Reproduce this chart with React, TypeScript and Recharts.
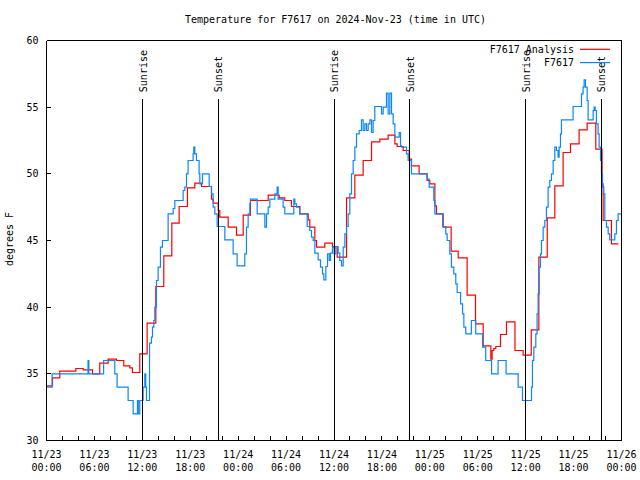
import { Customized, Legend, Line, LineChart, ReferenceLine, XAxis, YAxis } from 'recharts';

const FONT = '"DejaVu Sans Mono", "Liberation Mono", monospace';

const HOUR_TICKS = [
  0, 2, 4, 6, 8, 10, 12, 14, 16, 18, 20, 22, 24, 26, 28, 30, 32, 34, 36, 38, 40, 42, 44, 46, 48,
  50, 52, 54, 56, 58, 60, 62, 64, 66, 68, 70, 72
];
const MAJOR_HOURS = [0, 6, 12, 18, 24, 30, 36, 42, 48, 54, 60, 66, 72];
const DATE_LABELS = [
  '11/23', '11/23', '11/23', '11/23', '11/24', '11/24', '11/24', '11/24',
  '11/25', '11/25', '11/25', '11/25', '11/26'
];
const TIME_LABELS = [
  '00:00', '06:00', '12:00', '18:00', '00:00', '06:00', '12:00', '18:00',
  '00:00', '06:00', '12:00', '18:00', '00:00'
];
const TEMP_TICKS = [30, 35, 40, 45, 50, 55, 60];

const SUN_EVENTS = ['Sunrise', 'Sunset', 'Sunrise', 'Sunset', 'Sunrise', 'Sunset'];
const SUN_HOURS = [12.03, 21.5, 36.04, 45.47, 60.03, 69.49];
// top of the sunrise/sunset markers (graph 0.85)
const MARKER_TOP = 55.6;

const SERIES_NAMES = ['F7617 Analysis', 'F7617'];
const SERIES_COLORS = ['#ff0000', '#0a86ff'];

// hours since 11/23 00:00 UTC
const ANALYSIS_HOURS = [
  0, 0.75, 1.66, 3.67, 4.59, 5.76, 6.67, 7.72, 8.76, 9.68, 10.43, 10.76, 11.68, 12.6, 13.69,
  14.69, 15.69, 16.61, 17.65, 18.57, 19.41, 20.66, 20.87, 21.5, 21.7, 22.75, 23.79, 24.63,
  25.54, 27.76, 29.13, 29.84, 30.68, 31.72, 32.77, 32.97, 33.6, 33.81, 34.85, 35.81, 36.4,
  37.57, 38.61, 39.65, 40.7, 41.74, 42.78, 43.62, 43.91, 44.66, 45.41, 45.7, 46.66, 47.66,
  48.0, 48.63, 48.83, 49.67, 50.67, 51.55, 52.67, 53.72, 54.68, 55.64, 55.8, 56.01, 56.26,
  56.85, 57.6, 58.66, 59.68, 60.7, 61.65, 62.7, 63.65, 64.69, 65.61, 66.69, 67.7, 68.78,
  69.57, 69.7, 70.74, 71.6
];
const ANALYSIS_TEMPS = [
  34.1, 34.7, 35.2, 35.4, 35.3, 35, 35.8, 36.1, 36, 35.6, 35.45, 35.1, 36.5, 38.8, 41.55,
  43.85, 46.3, 47.55, 48.95, 49.3, 49.05, 48.1, 47.8, 47.25, 46.75, 46, 45.4, 46.9,
  48, 48.4, 48.2, 48, 47.55, 47, 46.55, 46, 45, 44.5, 44.8, 44.55, 43.75,
  48.2, 49.9, 51, 52.4, 52.6, 52.9, 52.25, 52.05, 51.75, 51.1, 50.6, 50, 49.5,
  49.25, 47.6, 47, 46, 44.2, 43.7, 40.9, 38.75, 37.1, 36.1, 36.75, 36.9, 37.05,
  37.95, 38.9, 36.75, 36.4, 38.3, 43.75, 46.7, 49.1, 51.6, 52.25, 53.3, 53.8, 51.85,
  49.25, 46.5, 44.75, 44.75
];

const OBS_HOURS = [
  0, 0.7, 5.2, 5.3, 7.15, 8.55, 8.84, 10.22, 10.85, 11.39, 11.5, 11.68, 12.1, 12.31, 12.43,
  12.52, 12.9, 13.14, 13.27, 13.44, 13.56, 13.77, 13.98, 14.27, 14.52, 15.23, 15.86, 16.07,
  17.11, 17.32, 17.53, 17.73, 18.36, 18.44, 18.57, 18.78, 19.11, 19.2, 19.53, 20.37, 20.66,
  20.87, 21.08, 21.37, 22.33, 23.37, 23.87, 24.83, 25.04, 25.25, 25.46, 25.54, 26.38, 27.34,
  27.55, 27.76, 27.97, 28.59, 28.88, 29.01, 29.63, 29.84, 30.97, 31.1, 31.3, 31.72, 32.64,
  32.97, 33.18, 33.39, 33.6, 34.02, 34.31, 34.56, 34.73, 34.98, 35.19, 35.4, 35.56, 35.81,
  36.02, 36.23, 36.52, 36.73, 36.94, 37.15, 37.36, 37.57, 37.77, 37.98, 38.19, 38.4, 38.61,
  38.82, 39.15, 39.44, 39.65, 39.86, 40.07, 40.28, 40.49, 40.7, 40.9, 41.11, 41.95, 42.16,
  42.57, 42.78, 42.99, 43.2, 43.41, 43.62, 44.16, 44.33, 44.45, 45.08, 45.28, 45.7, 47.67,
  47.92, 48.5, 48.63, 49.6, 50.0, 50.17, 50.5, 50.7, 51.0, 51.25, 51.42, 51.85, 52.1, 52.26,
  52.5, 53.2, 53.75, 54.6, 55.0, 55.73, 56.55, 57.55, 59.06, 59.6, 60.73, 60.85, 61.02, 61.27,
  61.43, 61.56, 61.69, 61.85, 61.98, 62.19, 62.4, 62.6, 62.81, 63.02, 63.23, 63.44, 63.65,
  63.86, 64.06, 64.19, 64.36, 64.48, 65.94, 66.99, 67.19, 67.32, 67.49, 67.7, 67.82, 68.45,
  68.57, 68.7, 68.86, 69.07, 69.2, 69.37, 69.49, 69.62, 69.78, 69.91, 70.12, 70.33, 70.53,
  71.16, 71.37, 71.58, 72
];
const OBS_TEMPS = [
  34, 35, 36, 35, 36, 35, 34, 33, 32, 33, 32, 33, 34, 35, 34,
  33, 37.3, 37.75, 38.5, 39, 40, 42, 43, 44.5, 45, 47, 47.4, 48,
  48.75, 49, 50, 51, 51.5, 52, 51.5, 51, 50, 49.25, 50, 49.05, 48.5,
  47.5, 47, 46.05, 45.05, 44, 43.1, 44, 46, 47, 47.75, 48.1, 47, 46,
  47, 47.5, 48.1, 48.5, 49, 48.1, 47.5, 47, 48.1, 47.75, 47.5, 47, 46.05,
  45.75, 45.25, 45, 44.05, 43.55, 43, 42.5, 42.05, 43.05, 44, 43.5, 44.05, 44.5,
  44, 44.55, 44.05, 43.5, 43.1, 44.5, 45.5, 46.05, 47, 48.5, 50, 51, 52,
  53, 53.25, 54.05, 53.25, 53.75, 53.25, 53.75, 54.05, 53.1, 54, 55.05, 54.5, 55,
  56.05, 54.5, 56.05, 54.5, 53.75, 52.75, 53.1, 52.1, 52, 51.5, 51, 50, 49.6,
  49, 48, 47, 46.05, 45.5, 45, 44, 43, 42.5, 41.75, 41.1, 40.25, 39.5, 38.5,
  38, 39, 38, 37, 36, 35, 36, 35, 34, 33, 34, 36, 37, 38,
  39.5, 41, 43, 44, 45, 46, 46.5, 47.5, 49, 49.5, 50, 51, 52,
  51.75, 51.25, 52, 53, 54.05, 55.05, 56, 56.5, 57.05, 56.5, 55.5, 54.05, 54.75,
  55, 54.75, 53.75, 53, 52, 51, 50, 49, 48.5, 46.5, 46, 45.5, 45.05,
  45.5, 46.5, 47, 47
];

const analysisData = ANALYSIS_HOURS.map((hour, i) => ({ hour, temp: ANALYSIS_TEMPS[i] }));
const obsData = OBS_HOURS.map((hour, i) => ({ hour, temp: OBS_TEMPS[i] }));

const crisp = (v: number) => Math.round(v - 0.5) + 0.5;

const BottomTick = ({ x, y, payload }: any) => {
  const idx = MAJOR_HOURS.indexOf(payload.value);
  const cx = crisp(x);
  return (
    <g>
      <line x1={cx} x2={cx} y1={y} y2={y - 5} stroke="#000" />
      {idx >= 0 && (
        <text x={x} y={y + 17.5} textAnchor="middle" fontFamily={FONT} fontSize={10} fill="#000">
          <tspan x={x}>{DATE_LABELS[idx]}</tspan>
          <tspan x={x} dy={13}>{TIME_LABELS[idx]}</tspan>
        </text>
      )}
    </g>
  );
};

const TopTick = ({ x, y }: any) => {
  const cx = crisp(x);
  return <line x1={cx} x2={cx} y1={y} y2={y + 5} stroke="#000" />;
};

const LeftTick = ({ x, y, payload }: any) => {
  const cy = crisp(y);
  return (
    <g>
      <line x1={x} x2={x + 4} y1={cy} y2={cy} stroke="#000" />
      <text x={x - 8} y={y + 3.6} textAnchor="end" fontFamily={FONT} fontSize={10} fill="#000">
        {payload.value}
      </text>
    </g>
  );
};

const RightTick = ({ x, y }: any) => {
  const cy = crisp(y);
  return <line x1={x} x2={x - 4} y1={cy} y2={cy} stroke="#000" />;
};

const SunLabel = ({ viewBox, text }: any) => {
  if (!viewBox) return null;
  const x = viewBox.x + 0.5;
  const y = viewBox.y - 7;
  return (
    <text
      x={x}
      y={y}
      transform={`rotate(-90 ${x} ${y})`}
      textAnchor="start"
      dominantBaseline="central"
      fontFamily={FONT}
      fontSize={10}
      fill="#000"
    >
      {text}
    </text>
  );
};

// legend rows follow the series order, colours from the series table
const renderLegend = () => (
  <svg width={150} height={30} style={{ display: 'block' }}>
    {SERIES_NAMES.map((name, i) => (
      <g key={name}>
        <text x={104} y={10.5 + i * 13.3} textAnchor="end" fontFamily={FONT} fontSize={10} fill="#000">
          {name}
        </text>
        <line
          x1={110}
          x2={140}
          y1={7.3 + i * 13.3}
          y2={7.3 + i * 13.3}
          stroke={SERIES_COLORS[i]}
          strokeWidth={1.2}
        />
      </g>
    ))}
  </svg>
);

const ChartTexts = () => (
  <g>
    <text x={335.5} y={23.3} textAnchor="middle" fontFamily={FONT} fontSize={10} fill="#000">
      Temperature for F7617 on 2024-Nov-23 (time in UTC)
    </text>
    <text
      x={9}
      y={239}
      transform="rotate(-90 9 239)"
      textAnchor="middle"
      dominantBaseline="central"
      fontFamily={FONT}
      fontSize={10}
      fill="#000"
    >
      degrees F
    </text>
  </g>
);

export default function App() {
  return (
    <div className="chart" style={{ position: 'absolute', left: 0, top: 0, background: '#fff' }}>
      <style>{'.chart .recharts-surface line { shape-rendering: crispEdges; }'}</style>
      <LineChart width={640} height={480} margin={{ top: 0, right: 0, bottom: 0, left: 0 }}>
        <XAxis
          xAxisId="bottom"
          type="number"
          dataKey="hour"
          domain={[0, 72]}
          ticks={HOUR_TICKS}
          interval={0}
          height={39.5}
          tickSize={0}
          tickMargin={0}
          tickLine={false}
          axisLine={{ stroke: '#000' }}
          tick={BottomTick}
        />
        <XAxis
          xAxisId="top"
          orientation="top"
          type="number"
          dataKey="hour"
          domain={[0, 72]}
          ticks={HOUR_TICKS}
          interval={0}
          height={40.5}
          tickSize={0}
          tickMargin={0}
          tickLine={false}
          axisLine={{ stroke: '#000' }}
          tick={TopTick}
        />
        <YAxis
          yAxisId="left"
          type="number"
          domain={[30, 60]}
          ticks={TEMP_TICKS}
          interval={0}
          width={46.5}
          tickSize={0}
          tickMargin={0}
          tickLine={false}
          axisLine={{ stroke: '#000' }}
          tick={LeftTick}
        />
        <YAxis
          yAxisId="right"
          orientation="right"
          type="number"
          domain={[30, 60]}
          ticks={TEMP_TICKS}
          interval={0}
          width={18.5}
          tickSize={0}
          tickMargin={0}
          tickLine={false}
          axisLine={{ stroke: '#000' }}
          tick={RightTick}
        />
        <Line
          data={analysisData}
          xAxisId="bottom"
          yAxisId="left"
          dataKey="temp"
          name={SERIES_NAMES[0]}
          type="stepAfter"
          stroke={SERIES_COLORS[0]}
          strokeWidth={1.2}
          dot={false}
          activeDot={false}
          isAnimationActive={false}
        />
        <Line
          data={obsData}
          xAxisId="bottom"
          yAxisId="left"
          dataKey="temp"
          name={SERIES_NAMES[1]}
          type="stepAfter"
          stroke={SERIES_COLORS[1]}
          strokeWidth={1.2}
          dot={false}
          activeDot={false}
          isAnimationActive={false}
        />
        {SUN_HOURS.map((hour, i) => (
          <ReferenceLine
            key={`sun-${i}`}
            xAxisId="bottom"
            yAxisId="left"
            segment={[
              { x: hour, y: 30 },
              { x: hour, y: MARKER_TOP }
            ]}
            stroke="#000"
            strokeWidth={1}
            label={<SunLabel text={SUN_EVENTS[i]} />}
          />
        ))}
        <Legend
          layout="horizontal"
          verticalAlign="middle"
          align="center"
          wrapperStyle={{ top: 42, left: 470, width: 150, height: 30 }}
          content={renderLegend}
        />
        <Customized component={ChartTexts} />
      </LineChart>
    </div>
  );
}
